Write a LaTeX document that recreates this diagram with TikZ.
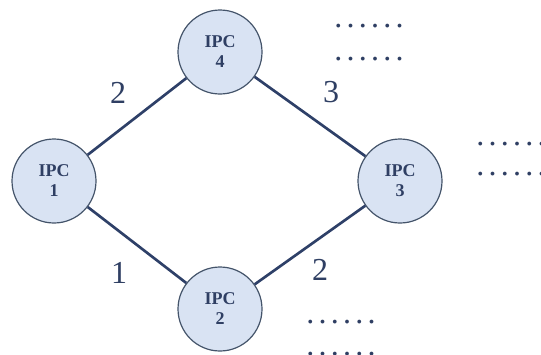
\documentclass[tikz,border=0pt]{standalone}
\usepackage{fontspec}
\setmainfont{Liberation Serif}
\definecolor{navy}{HTML}{2F3F63}
\definecolor{edgec}{HTML}{2E4068}
\definecolor{ipcfill}{HTML}{D9E3F3}
\definecolor{ipcdraw}{HTML}{44546A}
\newcommand{\dotrow}{.\hspace{3.2pt}.\hspace{3.2pt}.\hspace{3.2pt}.\hspace{3.2pt}.\hspace{3.2pt}.}
\begin{document}
\begin{tikzpicture}[x=0.75pt,y=-0.75pt,
  ipc/.style={circle,draw=ipcdraw,line width=0.9pt,fill=ipcfill,minimum size=63pt,inner sep=0pt,
    align=center,text=navy,font=\fontsize{13.5}{15}\selectfont\bfseries},
  link/.style={draw=edgec,line width=2pt},
  lbl/.style={text=navy,font=\fontsize{24}{24}\selectfont,inner sep=0pt},
  dots/.style={text=navy,font=\fontsize{24}{24}\selectfont,inner sep=0pt,anchor=west}]
\useasboundingbox (0,0) rectangle (541,354);
\node[ipc] (p1) at (54,181) {IPC\\1};
\node[ipc] (p4) at (220,52) {IPC\\4};
\node[ipc] (p3) at (400,181) {IPC\\3};
\node[ipc] (p2) at (220,309) {IPC\\2};
\draw[link] (p1) -- (p4);
\draw[link] (p4) -- (p3);
\draw[link] (p1) -- (p2);
\draw[link] (p2) -- (p3);
\node[lbl] (l14) at (118,93) {2};
\node[lbl] (l43) at (331,92) {3};
\node[lbl] (l12) at (119,273) {1};
\node[lbl] (l23) at (320,270) {2};
\node[dots] (d1) at (334,26) {\dotrow};
\node[dots] (d2) at (334,59) {\dotrow};
\node[dots] (d3) at (476,144) {\dotrow};
\node[dots] (d4) at (476,174) {\dotrow};
\node[dots] (d5) at (306,322) {\dotrow};
\node[dots] (d6) at (306,354) {\dotrow};
\end{tikzpicture}
\end{document}
